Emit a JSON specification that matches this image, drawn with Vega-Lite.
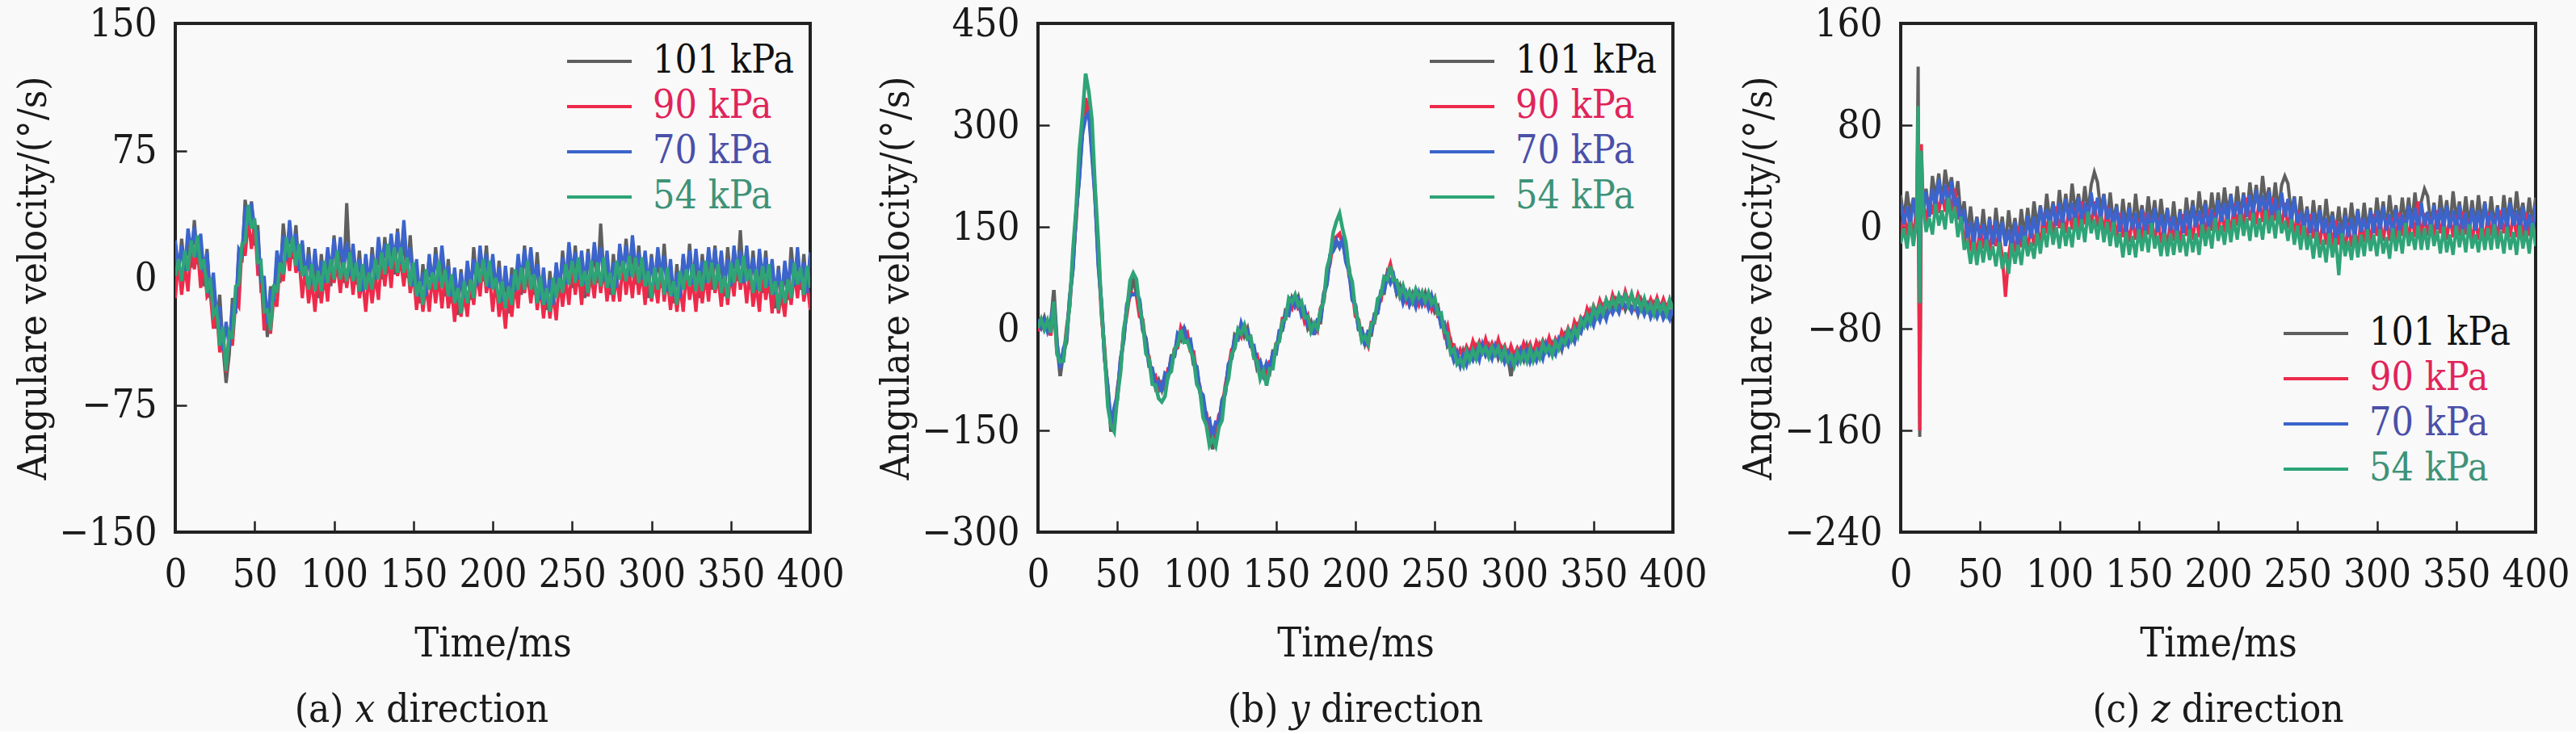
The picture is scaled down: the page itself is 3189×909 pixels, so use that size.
{
"$schema":"https://vega.github.io/schema/vega-lite/v6.json",
"background":"#f9f9f9",
"padding":{"left":15,"top":3,"right":10,"bottom":0},
"autosize":{"type":"pad"},
"bounds":"flush",
"spacing":282,
"resolve":{"scale":{"x":"independent","y":"independent","color":"independent"},"legend":{"color":"independent"}},
"config":{
"view":{"stroke":"#222222","strokeWidth":4},
"axis":{"labelFont":"DejaVu Serif Condensed, DejaVu Serif","labelFontSize":49,"labelColor":"#1a1a1a","titleFont":"DejaVu Serif Condensed, DejaVu Serif","titleFontSize":49,"titleFontWeight":"normal","titleColor":"#1a1a1a","domain":false,"grid":false,"tickSize":-14,"tickWidth":2.5,"tickColor":"#222222","labelFlush":false,"labelOverlap":false},
"axisX":{"labelPadding":42,"titlePadding":36,"titleFontSize":50},
"axisY":{"labelPadding":37,"titlePadding":6},
"legend":{"labelFont":"DejaVu Serif Condensed, DejaVu Serif","labelFontSize":48,"labelLimit":400,"symbolSize":2500,"symbolStrokeWidth":4,"labelOffset":39,"rowPadding":5,"padding":0},
"title":{"font":"DejaVu Serif Condensed, DejaVu Serif","fontSize":49,"fontWeight":"normal","color":"#1a1a1a","orient":"bottom","anchor":"middle","offset":33},
"line":{"strokeWidth":4}
},
"datasets":{
"xdir":[
{"t":0,"p101":20,"p90":-12,"p70":22,"p54":1},
{"t":2,"p101":0,"p90":10,"p70":5,"p54":11},
{"t":4,"p101":23,"p90":-10,"p70":19,"p54":-2},
{"t":6,"p101":5,"p90":7,"p70":4,"p54":16},
{"t":8,"p101":22,"p90":-8,"p70":29,"p54":4},
{"t":10,"p101":6,"p90":20,"p70":16,"p54":22},
{"t":12,"p101":34,"p90":5,"p70":30,"p54":12},
{"t":14,"p101":8,"p90":17,"p70":12,"p54":25},
{"t":16,"p101":20,"p90":-6,"p70":26,"p54":5},
{"t":18,"p101":-5,"p90":12,"p70":3,"p54":11},
{"t":20,"p101":17,"p90":-11,"p70":15,"p54":-9},
{"t":22,"p101":-12,"p90":-8,"p70":-10,"p54":0},
{"t":24,"p101":-1,"p90":-30,"p70":3,"p54":-22},
{"t":26,"p101":-30,"p90":-18,"p70":-22,"p54":-18},
{"t":28,"p101":-10,"p90":-44,"p70":-17,"p54":-40},
{"t":30,"p101":-40,"p90":-35,"p70":-43,"p54":-29},
{"t":32,"p101":-62,"p90":-56,"p70":-26,"p54":-55},
{"t":34,"p101":-45,"p90":-32,"p70":-41,"p54":-32},
{"t":36,"p101":-12,"p90":-40,"p70":-17,"p54":-36},
{"t":38,"p101":-21,"p90":-14,"p70":-21,"p54":-5},
{"t":40,"p101":15,"p90":-17,"p70":17,"p54":-4},
{"t":42,"p101":9,"p90":19,"p70":14,"p54":20},
{"t":44,"p101":46,"p90":13,"p70":42,"p54":21},
{"t":46,"p101":32,"p90":34,"p70":31,"p54":43},
{"t":48,"p101":45,"p90":17,"p70":44,"p54":29},
{"t":50,"p101":19,"p90":33,"p70":29,"p54":35},
{"t":52,"p101":31,"p90":2,"p70":27,"p54":9},
{"t":54,"p101":-7,"p90":2,"p70":-3,"p54":10},
{"t":56,"p101":-5,"p90":-31,"p70":1,"p54":-20},
{"t":58,"p101":-35,"p90":-18,"p70":-27,"p54":-19},
{"t":60,"p101":-5,"p90":-33,"p70":-7,"p54":-31},
{"t":62,"p101":-16,"p90":-12,"p70":-14,"p54":-4},
{"t":64,"p101":12,"p90":-17,"p70":16,"p54":-9},
{"t":66,"p101":-3,"p90":9,"p70":5,"p54":9},
{"t":68,"p101":32,"p90":-2,"p70":25,"p54":2},
{"t":70,"p101":13,"p90":18,"p70":10,"p54":24},
{"t":72,"p101":29,"p90":4,"p70":34,"p54":12},
{"t":74,"p101":11,"p90":24,"p70":15,"p54":24},
{"t":76,"p101":31,"p90":3,"p70":26,"p54":7},
{"t":78,"p101":4,"p90":11,"p70":4,"p54":20},
{"t":80,"p101":20,"p90":-12,"p70":22,"p54":1},
{"t":82,"p101":-4,"p90":6,"p70":1,"p54":7},
{"t":84,"p101":18,"p90":-15,"p70":14,"p54":-7},
{"t":86,"p101":-3,"p90":-1,"p70":-4,"p54":8},
{"t":88,"p101":10,"p90":-20,"p70":17,"p54":-8},
{"t":90,"p101":-12,"p90":2,"p70":-2,"p54":4},
{"t":92,"p101":14,"p90":-15,"p70":10,"p54":-8},
{"t":94,"p101":-7,"p90":2,"p70":-3,"p54":10},
{"t":96,"p101":12,"p90":-14,"p70":18,"p54":-3},
{"t":98,"p101":-5,"p90":12,"p70":3,"p54":11},
{"t":100,"p101":25,"p90":-3,"p70":23,"p54":-1},
{"t":102,"p101":4,"p90":8,"p70":6,"p54":16},
{"t":104,"p101":20,"p90":-9,"p70":24,"p54":-1},
{"t":106,"p101":-3,"p90":9,"p70":5,"p54":9},
{"t":108,"p101":44,"p90":-6,"p70":21,"p54":-2},
{"t":110,"p101":4,"p90":9,"p70":1,"p54":15},
{"t":112,"p101":15,"p90":-10,"p70":20,"p54":-2},
{"t":114,"p101":-4,"p90":9,"p70":0,"p54":9},
{"t":116,"p101":16,"p90":-12,"p70":11,"p54":-8},
{"t":118,"p101":-8,"p90":-1,"p70":-8,"p54":8},
{"t":120,"p101":12,"p90":-20,"p70":14,"p54":-7},
{"t":122,"p101":-8,"p90":2,"p70":-3,"p54":3},
{"t":124,"p101":18,"p90":-15,"p70":14,"p54":-7},
{"t":126,"p101":0,"p90":2,"p70":-1,"p54":11},
{"t":128,"p101":17,"p90":-13,"p70":24,"p54":-1},
{"t":130,"p101":-1,"p90":13,"p70":9,"p54":15},
{"t":132,"p101":24,"p90":-5,"p70":20,"p54":2},
{"t":134,"p101":3,"p90":12,"p70":7,"p54":20},
{"t":136,"p101":20,"p90":-6,"p70":26,"p54":5},
{"t":138,"p101":2,"p90":19,"p70":10,"p54":18},
{"t":140,"p101":29,"p90":1,"p70":27,"p54":3},
{"t":142,"p101":6,"p90":10,"p70":8,"p54":18},
{"t":144,"p101":24,"p90":-5,"p70":34,"p54":3},
{"t":146,"p101":0,"p90":12,"p70":8,"p54":12},
{"t":148,"p101":25,"p90":-9,"p70":18,"p54":-5},
{"t":150,"p101":-2,"p90":3,"p70":-5,"p54":9},
{"t":152,"p101":6,"p90":-19,"p70":11,"p54":-11},
{"t":154,"p101":-15,"p90":-2,"p70":-11,"p54":-2},
{"t":156,"p101":8,"p90":-20,"p70":3,"p54":-16},
{"t":158,"p101":-11,"p90":-4,"p70":-11,"p54":5},
{"t":160,"p101":12,"p90":-20,"p70":14,"p54":-7},
{"t":162,"p101":-8,"p90":2,"p70":-3,"p54":3},
{"t":164,"p101":18,"p90":-15,"p70":14,"p54":-7},
{"t":166,"p101":-1,"p90":1,"p70":-2,"p54":10},
{"t":168,"p101":12,"p90":-18,"p70":19,"p54":-6},
{"t":170,"p101":-11,"p90":3,"p70":-1,"p54":5},
{"t":172,"p101":11,"p90":-18,"p70":7,"p54":-11},
{"t":174,"p101":-15,"p90":-6,"p70":-11,"p54":2},
{"t":176,"p101":0,"p90":-26,"p70":6,"p54":-15},
{"t":178,"p101":-22,"p90":-5,"p70":-14,"p54":-6},
{"t":180,"p101":5,"p90":-23,"p70":3,"p54":-21},
{"t":182,"p101":-14,"p90":-10,"p70":-12,"p54":-2},
{"t":184,"p101":6,"p90":-23,"p70":10,"p54":-15},
{"t":186,"p101":-13,"p90":-1,"p70":-5,"p54":-1},
{"t":188,"p101":18,"p90":-16,"p70":11,"p54":-12},
{"t":190,"p101":-2,"p90":3,"p70":-5,"p54":9},
{"t":192,"p101":14,"p90":-11,"p70":19,"p54":-3},
{"t":194,"p101":-2,"p90":11,"p70":2,"p54":11},
{"t":196,"p101":19,"p90":-9,"p70":14,"p54":-5},
{"t":198,"p101":-6,"p90":1,"p70":-6,"p54":10},
{"t":200,"p101":12,"p90":-20,"p70":14,"p54":-7},
{"t":202,"p101":-11,"p90":-1,"p70":-6,"p54":0},
{"t":204,"p101":10,"p90":-23,"p70":6,"p54":-15},
{"t":206,"p101":-13,"p90":-11,"p70":-14,"p54":-2},
{"t":208,"p101":0,"p90":-30,"p70":7,"p54":-18},
{"t":210,"p101":-21,"p90":-7,"p70":-11,"p54":-5},
{"t":212,"p101":6,"p90":-23,"p70":2,"p54":-16},
{"t":214,"p101":-12,"p90":-3,"p70":-8,"p54":5},
{"t":216,"p101":8,"p90":-18,"p70":14,"p54":-7},
{"t":218,"p101":-10,"p90":7,"p70":-2,"p54":6},
{"t":220,"p101":19,"p90":-9,"p70":17,"p54":-7},
{"t":222,"p101":-2,"p90":2,"p70":0,"p54":10},
{"t":224,"p101":14,"p90":-15,"p70":18,"p54":-7},
{"t":226,"p101":-10,"p90":2,"p70":-2,"p54":2},
{"t":228,"p101":15,"p90":-19,"p70":8,"p54":-15},
{"t":230,"p101":-10,"p90":-5,"p70":-13,"p54":1},
{"t":232,"p101":1,"p90":-24,"p70":6,"p54":-16},
{"t":234,"p101":-19,"p90":-6,"p70":-15,"p54":-6},
{"t":236,"p101":4,"p90":-24,"p70":-1,"p54":-20},
{"t":238,"p101":-16,"p90":-9,"p70":-16,"p54":0},
{"t":240,"p101":7,"p90":-25,"p70":9,"p54":-12},
{"t":242,"p101":-11,"p90":-1,"p70":-6,"p54":0},
{"t":244,"p101":16,"p90":-17,"p70":12,"p54":-9},
{"t":246,"p101":-3,"p90":-1,"p70":-4,"p54":8},
{"t":248,"p101":14,"p90":-16,"p70":21,"p54":-4},
{"t":250,"p101":-6,"p90":8,"p70":4,"p54":10},
{"t":252,"p101":19,"p90":-10,"p70":15,"p54":-3},
{"t":254,"p101":-5,"p90":4,"p70":-1,"p54":12},
{"t":256,"p101":10,"p90":-16,"p70":16,"p54":-5},
{"t":258,"p101":-12,"p90":5,"p70":-4,"p54":4},
{"t":260,"p101":17,"p90":-11,"p70":15,"p54":-9},
{"t":262,"p101":-2,"p90":2,"p70":0,"p54":10},
{"t":264,"p101":17,"p90":-12,"p70":21,"p54":-4},
{"t":266,"p101":-3,"p90":9,"p70":5,"p54":9},
{"t":268,"p101":32,"p90":-9,"p70":18,"p54":-5},
{"t":270,"p101":1,"p90":6,"p70":-2,"p54":12},
{"t":272,"p101":11,"p90":-14,"p70":16,"p54":-6},
{"t":274,"p101":-10,"p90":3,"p70":-6,"p54":3},
{"t":276,"p101":14,"p90":-14,"p70":9,"p54":-10},
{"t":278,"p101":-6,"p90":1,"p70":-6,"p54":10},
{"t":280,"p101":18,"p90":-14,"p70":20,"p54":-1},
{"t":282,"p101":-1,"p90":9,"p70":4,"p54":10},
{"t":284,"p101":23,"p90":-10,"p70":19,"p54":-2},
{"t":286,"p101":2,"p90":4,"p70":1,"p54":13},
{"t":288,"p101":18,"p90":-12,"p70":25,"p54":0},
{"t":290,"p101":-4,"p90":10,"p70":6,"p54":12},
{"t":292,"p101":19,"p90":-10,"p70":15,"p54":-3},
{"t":294,"p101":-5,"p90":4,"p70":-1,"p54":12},
{"t":296,"p101":10,"p90":-16,"p70":16,"p54":-5},
{"t":298,"p101":-12,"p90":5,"p70":-4,"p54":4},
{"t":300,"p101":14,"p90":-14,"p70":12,"p54":-12},
{"t":302,"p101":-6,"p90":-2,"p70":-4,"p54":6},
{"t":304,"p101":14,"p90":-15,"p70":18,"p54":-7},
{"t":306,"p101":-6,"p90":6,"p70":2,"p54":6},
{"t":308,"p101":20,"p90":-14,"p70":13,"p54":-10},
{"t":310,"p101":-5,"p90":0,"p70":-8,"p54":6},
{"t":312,"p101":6,"p90":-19,"p70":11,"p54":-11},
{"t":314,"p101":-15,"p90":-2,"p70":-11,"p54":-2},
{"t":316,"p101":8,"p90":-20,"p70":3,"p54":-16},
{"t":318,"p101":-12,"p90":-5,"p70":-12,"p54":4},
{"t":320,"p101":12,"p90":-20,"p70":14,"p54":-7},
{"t":322,"p101":-6,"p90":4,"p70":-1,"p54":5},
{"t":324,"p101":20,"p90":-13,"p70":16,"p54":-5},
{"t":326,"p101":-3,"p90":-1,"p70":-4,"p54":8},
{"t":328,"p101":10,"p90":-20,"p70":17,"p54":-8},
{"t":330,"p101":-12,"p90":2,"p70":-2,"p54":4},
{"t":332,"p101":14,"p90":-15,"p70":10,"p54":-8},
{"t":334,"p101":-7,"p90":2,"p70":-3,"p54":10},
{"t":336,"p101":12,"p90":-14,"p70":18,"p54":-3},
{"t":338,"p101":-7,"p90":10,"p70":1,"p54":9},
{"t":340,"p101":19,"p90":-9,"p70":17,"p54":-7},
{"t":342,"p101":-4,"p90":0,"p70":-2,"p54":8},
{"t":344,"p101":12,"p90":-17,"p70":16,"p54":-9},
{"t":346,"p101":-11,"p90":1,"p70":-3,"p54":1},
{"t":348,"p101":18,"p90":-16,"p70":11,"p54":-12},
{"t":350,"p101":-2,"p90":3,"p70":-5,"p54":9},
{"t":352,"p101":14,"p90":-11,"p70":19,"p54":-3},
{"t":354,"p101":-2,"p90":11,"p70":2,"p54":11},
{"t":356,"p101":28,"p90":-7,"p70":16,"p54":-3},
{"t":358,"p101":-3,"p90":4,"p70":-3,"p54":13},
{"t":360,"p101":17,"p90":-15,"p70":19,"p54":-2},
{"t":362,"p101":-6,"p90":4,"p70":-1,"p54":5},
{"t":364,"p101":16,"p90":-17,"p70":12,"p54":-9},
{"t":366,"p101":-6,"p90":-4,"p70":-7,"p54":5},
{"t":368,"p101":10,"p90":-20,"p70":17,"p54":-8},
{"t":370,"p101":-9,"p90":5,"p70":1,"p54":7},
{"t":372,"p101":16,"p90":-13,"p70":12,"p54":-6},
{"t":374,"p101":-9,"p90":0,"p70":-5,"p54":8},
{"t":376,"p101":5,"p90":-21,"p70":11,"p54":-10},
{"t":378,"p101":-18,"p90":-1,"p70":-10,"p54":-2},
{"t":380,"p101":7,"p90":-21,"p70":5,"p54":-19},
{"t":382,"p101":-14,"p90":-10,"p70":-12,"p54":-2},
{"t":384,"p101":6,"p90":-23,"p70":10,"p54":-15},
{"t":386,"p101":-13,"p90":-1,"p70":-5,"p54":-1},
{"t":388,"p101":18,"p90":-16,"p70":11,"p54":-12},
{"t":390,"p101":-2,"p90":3,"p70":-5,"p54":9},
{"t":392,"p101":13,"p90":-12,"p70":18,"p54":-4},
{"t":394,"p101":-7,"p90":6,"p70":-3,"p54":6},
{"t":396,"p101":14,"p90":-14,"p70":9,"p54":-10},
{"t":398,"p101":-9,"p90":-2,"p70":-9,"p54":7},
{"t":400,"p101":13,"p90":-19,"p70":15,"p54":-6}
],
"ydir":[
{"t":0,"p101":12,"p90":-4,"p70":14,"p54":1},
{"t":2,"p101":2,"p90":16,"p70":2,"p54":14},
{"t":4,"p101":16,"p90":-1,"p70":12,"p54":-1},
{"t":6,"p101":-1,"p90":8,"p70":-4,"p54":12},
{"t":8,"p101":6,"p90":-10,"p70":10,"p54":-6},
{"t":10,"p101":57,"p90":35,"p70":38,"p54":40},
{"t":12,"p101":-21,"p90":-35,"p70":-23,"p54":-38},
{"t":14,"p101":-70,"p90":-48,"p70":-59,"p54":-49},
{"t":16,"p101":-34,"p90":-47,"p70":-30,"p54":-48},
{"t":18,"p101":-20,"p90":0,"p70":-15,"p54":-5},
{"t":20,"p101":47,"p90":35,"p70":45,"p54":34},
{"t":22,"p101":90,"p90":103,"p70":88,"p54":116},
{"t":24,"p101":169,"p90":160,"p70":170,"p54":177},
{"t":26,"p101":222,"p90":243,"p70":221,"p54":263},
{"t":28,"p101":298,"p90":288,"p70":288,"p54":314},
{"t":30,"p101":322,"p90":340,"p70":311,"p54":376},
{"t":32,"p101":330,"p90":317,"p70":318,"p54":350},
{"t":34,"p101":262,"p90":284,"p70":256,"p54":308},
{"t":36,"p101":200,"p90":191,"p70":192,"p54":208},
{"t":38,"p101":100,"p90":114,"p70":93,"p54":129},
{"t":40,"p101":36,"p90":20,"p70":37,"p54":28},
{"t":42,"p101":-44,"p90":-31,"p70":-44,"p54":-38},
{"t":44,"p101":-86,"p90":-105,"p70":-88,"p54":-115},
{"t":46,"p101":-152,"p90":-133,"p70":-140,"p54":-143},
{"t":48,"p101":-124,"p90":-142,"p70":-117,"p54":-152},
{"t":50,"p101":-105,"p90":-89,"p70":-98,"p54":-101},
{"t":52,"p101":-45,"p90":-60,"p70":-47,"p54":-65},
{"t":54,"p101":-17,"p90":-4,"p70":-16,"p54":-1},
{"t":56,"p101":33,"p90":21,"p70":36,"p54":27},
{"t":58,"p101":48,"p90":55,"p70":50,"p54":71},
{"t":60,"p101":76,"p90":51,"p70":50,"p54":82},
{"t":62,"p101":52,"p90":50,"p70":52,"p54":73},
{"t":64,"p101":40,"p90":18,"p70":43,"p54":31},
{"t":66,"p101":-3,"p90":13,"p70":0,"p54":9},
{"t":68,"p101":-14,"p90":-31,"p70":-18,"p54":-37},
{"t":70,"p101":-52,"p90":-42,"p70":-56,"p54":-45},
{"t":72,"p101":-62,"p90":-75,"p70":-58,"p54":-82},
{"t":74,"p101":-86,"p90":-70,"p70":-84,"p54":-83},
{"t":76,"p101":-76,"p90":-91,"p70":-79,"p54":-103},
{"t":78,"p101":-90,"p90":-80,"p70":-93,"p54":-108},
{"t":80,"p101":-70,"p90":-87,"p70":-66,"p54":-100},
{"t":82,"p101":-71,"p90":-59,"p70":-70,"p54":-68},
{"t":84,"p101":-40,"p90":-58,"p70":-43,"p54":-63},
{"t":86,"p101":-39,"p90":-30,"p70":-41,"p54":-30},
{"t":88,"p101":-11,"p90":-28,"p70":-7,"p54":-25},
{"t":90,"p101":-17,"p90":1,"p70":-12,"p54":-2},
{"t":92,"p101":3,"p90":-11,"p70":0,"p54":-20},
{"t":94,"p101":-19,"p90":-6,"p70":-18,"p54":-18},
{"t":96,"p101":-20,"p90":-33,"p70":-16,"p54":-32},
{"t":98,"p101":-53,"p90":-34,"p70":-48,"p54":-43},
{"t":100,"p101":-56,"p90":-71,"p70":-57,"p54":-82},
{"t":102,"p101":-94,"p90":-85,"p70":-92,"p54":-91},
{"t":104,"p101":-104,"p90":-120,"p70":-98,"p54":-131},
{"t":106,"p101":-138,"p90":-124,"p70":-132,"p54":-142},
{"t":108,"p101":-134,"p90":-153,"p70":-135,"p54":-172},
{"t":110,"p101":-178,"p90":-148,"p70":-158,"p54":-162},
{"t":112,"p101":-144,"p90":-158,"p70":-138,"p54":-173},
{"t":114,"p101":-141,"p90":-127,"p70":-139,"p54":-145},
{"t":116,"p101":-105,"p90":-121,"p70":-107,"p54":-135},
{"t":118,"p101":-94,"p90":-84,"p70":-96,"p54":-89},
{"t":120,"p101":-55,"p90":-60,"p70":-52,"p54":-74},
{"t":122,"p101":-44,"p90":-31,"p70":-44,"p54":-38},
{"t":124,"p101":-9,"p90":-27,"p70":-13,"p54":-29},
{"t":126,"p101":-13,"p90":-4,"p70":-16,"p54":-1},
{"t":128,"p101":4,"p90":-12,"p70":8,"p54":-8},
{"t":130,"p101":-11,"p90":7,"p70":-6,"p54":5},
{"t":132,"p101":0,"p90":-14,"p70":-3,"p54":-15},
{"t":134,"p101":-26,"p90":-14,"p70":-26,"p54":-12},
{"t":136,"p101":-30,"p90":-42,"p70":-25,"p54":-43},
{"t":138,"p101":-58,"p90":-39,"p70":-53,"p54":-48},
{"t":140,"p101":-49,"p90":-63,"p70":-49,"p54":-74},
{"t":142,"p101":-68,"p90":-59,"p70":-67,"p54":-62},
{"t":144,"p101":-56,"p90":-71,"p70":-51,"p54":-84},
{"t":146,"p101":-64,"p90":-49,"p70":-60,"p54":-59},
{"t":148,"p101":-33,"p90":-50,"p70":-36,"p54":-59},
{"t":150,"p101":-33,"p90":-22,"p70":-37,"p54":-23},
{"t":152,"p101":-7,"p90":-18,"p70":-3,"p54":-19},
{"t":154,"p101":-2,"p90":15,"p70":-2,"p54":11},
{"t":156,"p101":27,"p90":15,"p70":23,"p54":14},
{"t":158,"p101":25,"p90":37,"p70":20,"p54":45},
{"t":160,"p101":45,"p90":30,"p70":47,"p54":39},
{"t":162,"p101":34,"p90":49,"p70":33,"p54":50},
{"t":164,"p101":46,"p90":30,"p70":42,"p54":34},
{"t":166,"p101":24,"p90":33,"p70":20,"p54":40},
{"t":168,"p101":25,"p90":10,"p70":29,"p54":16},
{"t":170,"p101":1,"p90":19,"p70":5,"p54":18},
{"t":172,"p101":10,"p90":-4,"p70":7,"p54":-4},
{"t":174,"p101":-9,"p90":4,"p70":-9,"p54":8},
{"t":176,"p101":9,"p90":-3,"p70":13,"p54":0},
{"t":178,"p101":9,"p90":30,"p70":13,"p54":28},
{"t":180,"p101":52,"p90":40,"p70":49,"p54":40},
{"t":182,"p101":66,"p90":79,"p70":65,"p54":89},
{"t":184,"p101":107,"p90":96,"p70":109,"p54":106},
{"t":186,"p101":115,"p90":133,"p70":115,"p54":142},
{"t":188,"p101":124,"p90":135,"p70":130,"p54":158},
{"t":190,"p101":126,"p90":140,"p70":120,"p54":170},
{"t":192,"p101":128,"p90":124,"p70":132,"p54":146},
{"t":194,"p101":101,"p90":120,"p70":98,"p54":127},
{"t":196,"p101":90,"p90":78,"p70":84,"p54":84},
{"t":198,"p101":47,"p90":60,"p70":42,"p54":69},
{"t":200,"p101":34,"p90":18,"p70":35,"p54":26},
{"t":202,"p101":-1,"p90":13,"p70":-1,"p54":10},
{"t":204,"p101":0,"p90":-17,"p70":-3,"p54":-18},
{"t":206,"p101":-22,"p90":-14,"p70":-25,"p54":-11},
{"t":208,"p101":-8,"p90":-25,"p70":-4,"p54":-22},
{"t":210,"p101":-9,"p90":9,"p70":-4,"p54":7},
{"t":212,"p101":22,"p90":9,"p70":19,"p54":10},
{"t":214,"p101":24,"p90":37,"p70":23,"p54":44},
{"t":216,"p101":52,"p90":41,"p70":55,"p54":49},
{"t":218,"p101":52,"p90":74,"p70":55,"p54":76},
{"t":220,"p101":81,"p90":80,"p70":77,"p54":72},
{"t":222,"p101":69,"p90":95,"p70":67,"p54":92},
{"t":224,"p101":75,"p90":74,"p70":78,"p54":71},
{"t":226,"p101":52,"p90":68,"p70":53,"p54":71},
{"t":228,"p101":63,"p90":48,"p70":58,"p54":49},
{"t":230,"p101":44,"p90":56,"p70":38,"p54":63},
{"t":232,"p101":51,"p90":41,"p70":52,"p54":46},
{"t":234,"p101":36,"p90":54,"p70":35,"p54":55},
{"t":236,"p101":51,"p90":39,"p70":46,"p54":41},
{"t":238,"p101":37,"p90":50,"p70":32,"p54":58},
{"t":240,"p101":51,"p90":36,"p70":52,"p54":46},
{"t":242,"p101":37,"p90":52,"p70":36,"p54":54},
{"t":244,"p101":52,"p90":36,"p70":47,"p54":40},
{"t":246,"p101":35,"p90":45,"p70":31,"p54":53},
{"t":248,"p101":44,"p90":29,"p70":48,"p54":37},
{"t":250,"p101":25,"p90":43,"p70":29,"p54":45},
{"t":252,"p101":32,"p90":18,"p70":29,"p54":21},
{"t":254,"p101":5,"p90":18,"p70":4,"p54":23},
{"t":256,"p101":4,"p90":-8,"p70":8,"p54":-5},
{"t":258,"p101":-25,"p90":4,"p70":-23,"p54":-7},
{"t":260,"p101":-18,"p90":-23,"p70":-30,"p54":-36},
{"t":262,"p101":-44,"p90":-24,"p70":-47,"p54":-30},
{"t":264,"p101":-39,"p90":-42,"p70":-35,"p54":-52},
{"t":266,"p101":-54,"p90":-31,"p70":-54,"p54":-45},
{"t":268,"p101":-33,"p90":-41,"p70":-39,"p54":-55},
{"t":270,"p101":-45,"p90":-27,"p70":-53,"p54":-34},
{"t":272,"p101":-36,"p90":-37,"p70":-36,"p54":-47},
{"t":274,"p101":-44,"p90":-19,"p70":-46,"p54":-32},
{"t":276,"p101":-27,"p90":-32,"p70":-33,"p54":-44},
{"t":278,"p101":-40,"p90":-20,"p70":-46,"p54":-25},
{"t":280,"p101":-25,"p90":-33,"p70":-24,"p54":-36},
{"t":282,"p101":-38,"p90":-16,"p70":-39,"p54":-28},
{"t":284,"p101":-25,"p90":-33,"p70":-32,"p54":-42},
{"t":286,"p101":-39,"p90":-22,"p70":-44,"p54":-27},
{"t":288,"p101":-26,"p90":-34,"p70":-26,"p54":-38},
{"t":290,"p101":-43,"p90":-17,"p70":-40,"p54":-28},
{"t":292,"p101":-30,"p90":-35,"p70":-34,"p54":-44},
{"t":294,"p101":-48,"p90":-26,"p70":-49,"p54":-31},
{"t":296,"p101":-39,"p90":-42,"p70":-36,"p54":-48},
{"t":298,"p101":-70,"p90":-26,"p70":-52,"p54":-39},
{"t":300,"p101":-34,"p90":-40,"p70":-41,"p54":-54},
{"t":302,"p101":-47,"p90":-29,"p70":-50,"p54":-35},
{"t":304,"p101":-34,"p90":-38,"p70":-32,"p54":-48},
{"t":306,"p101":-46,"p90":-22,"p70":-45,"p54":-35},
{"t":308,"p101":-26,"p90":-34,"p70":-33,"p54":-48},
{"t":310,"p101":-42,"p90":-23,"p70":-49,"p54":-30},
{"t":312,"p101":-36,"p90":-38,"p70":-36,"p54":-47},
{"t":314,"p101":-45,"p90":-20,"p70":-47,"p54":-33},
{"t":316,"p101":-25,"p90":-30,"p70":-32,"p54":-43},
{"t":318,"p101":-38,"p90":-18,"p70":-44,"p54":-22},
{"t":320,"p101":-23,"p90":-30,"p70":-23,"p54":-34},
{"t":322,"p101":-36,"p90":-14,"p70":-37,"p54":-26},
{"t":324,"p101":-22,"p90":-31,"p70":-30,"p54":-39},
{"t":326,"p101":-33,"p90":-16,"p70":-38,"p54":-20},
{"t":328,"p101":-18,"p90":-26,"p70":-17,"p54":-30},
{"t":330,"p101":-31,"p90":-5,"p70":-29,"p54":-15},
{"t":332,"p101":-10,"p90":-15,"p70":-15,"p54":-22},
{"t":334,"p101":-22,"p90":0,"p70":-24,"p54":-3},
{"t":336,"p101":-9,"p90":-12,"p70":-7,"p54":-16},
{"t":338,"p101":-19,"p90":10,"p70":-18,"p54":0},
{"t":340,"p101":4,"p90":0,"p70":-1,"p54":-11},
{"t":342,"p101":-4,"p90":16,"p70":-6,"p54":13},
{"t":344,"p101":13,"p90":9,"p70":13,"p54":4},
{"t":346,"p101":4,"p90":29,"p70":4,"p54":20},
{"t":348,"p101":25,"p90":18,"p70":17,"p54":9},
{"t":350,"p101":13,"p90":33,"p70":5,"p54":31},
{"t":352,"p101":23,"p90":22,"p70":23,"p54":18},
{"t":354,"p101":14,"p90":41,"p70":12,"p54":33},
{"t":356,"p101":32,"p90":29,"p70":27,"p54":22},
{"t":358,"p101":21,"p90":42,"p70":14,"p54":42},
{"t":360,"p101":35,"p90":29,"p70":33,"p54":31},
{"t":362,"p101":26,"p90":49,"p70":23,"p54":43},
{"t":364,"p101":42,"p90":35,"p70":34,"p54":32},
{"t":366,"p101":30,"p90":48,"p70":24,"p54":49},
{"t":368,"p101":41,"p90":35,"p70":42,"p54":37},
{"t":370,"p101":28,"p90":54,"p70":32,"p54":50},
{"t":372,"p101":41,"p90":38,"p70":35,"p54":35},
{"t":374,"p101":28,"p90":50,"p70":25,"p54":51},
{"t":376,"p101":37,"p90":33,"p70":36,"p54":34},
{"t":378,"p101":22,"p90":50,"p70":23,"p54":44},
{"t":380,"p101":41,"p90":37,"p70":34,"p54":29},
{"t":382,"p101":25,"p90":43,"p70":21,"p54":44},
{"t":384,"p101":35,"p90":30,"p70":34,"p54":27},
{"t":386,"p101":19,"p90":43,"p70":17,"p54":36},
{"t":388,"p101":36,"p90":30,"p70":28,"p54":22},
{"t":390,"p101":24,"p90":45,"p70":17,"p54":44},
{"t":392,"p101":31,"p90":30,"p70":30,"p54":26},
{"t":394,"p101":18,"p90":43,"p70":15,"p54":36},
{"t":396,"p101":32,"p90":29,"p70":24,"p54":22},
{"t":398,"p101":21,"p90":42,"p70":14,"p54":42},
{"t":400,"p101":33,"p90":27,"p70":31,"p54":28}
],
"zdir":[
{"t":0,"p101":25,"p90":-9,"p70":19,"p54":-13},
{"t":2,"p101":5,"p90":13,"p70":2,"p54":-1},
{"t":4,"p101":28,"p90":-7,"p70":16,"p54":-17},
{"t":6,"p101":9,"p90":9,"p70":0,"p54":4},
{"t":8,"p101":23,"p90":-9,"p70":22,"p54":-15},
{"t":10,"p101":4,"p90":16,"p70":6,"p54":4},
{"t":11,"p101":126,"p90":30,"p70":50,"p54":95},
{"t":12,"p101":-165,"p90":-160,"p70":-40,"p54":-60},
{"t":13,"p101":30,"p90":65,"p70":35,"p54":60},
{"t":14,"p101":16,"p90":23,"p70":12,"p54":17},
{"t":16,"p101":30,"p90":2,"p70":28,"p54":-4},
{"t":18,"p101":8,"p90":23,"p70":8,"p54":7},
{"t":20,"p101":40,"p90":10,"p70":30,"p54":-6},
{"t":22,"p101":22,"p90":24,"p70":16,"p54":18},
{"t":24,"p101":42,"p90":11,"p70":38,"p54":1},
{"t":26,"p101":18,"p90":28,"p70":18,"p54":13},
{"t":28,"p101":45,"p90":12,"p70":33,"p54":-2},
{"t":30,"p101":28,"p90":31,"p70":17,"p54":23},
{"t":32,"p101":39,"p90":12,"p70":36,"p54":3},
{"t":34,"p101":19,"p90":30,"p70":15,"p54":16},
{"t":36,"p101":36,"p90":6,"p70":23,"p54":-8},
{"t":38,"p101":7,"p90":12,"p70":-1,"p54":8},
{"t":40,"p101":20,"p90":-14,"p70":14,"p54":-18},
{"t":42,"p101":-6,"p90":2,"p70":-9,"p54":-12},
{"t":44,"p101":16,"p90":-19,"p70":4,"p54":-29},
{"t":46,"p101":-7,"p90":-7,"p70":-16,"p54":-12},
{"t":48,"p101":8,"p90":-24,"p70":7,"p54":-30},
{"t":50,"p101":-11,"p90":1,"p70":-9,"p54":-11},
{"t":52,"p101":14,"p90":-17,"p70":2,"p54":-28},
{"t":54,"p101":-11,"p90":-4,"p70":-15,"p54":-10},
{"t":56,"p101":8,"p90":-20,"p70":6,"p54":-26},
{"t":58,"p101":-14,"p90":1,"p70":-14,"p54":-15},
{"t":60,"p101":15,"p90":-15,"p70":5,"p54":-31},
{"t":62,"p101":-8,"p90":-6,"p70":-14,"p54":-12},
{"t":64,"p101":8,"p90":-23,"p70":4,"p54":-33},
{"t":66,"p101":-15,"p90":-55,"p70":-15,"p54":-20},
{"t":68,"p101":13,"p90":-23,"p70":-2,"p54":-37},
{"t":70,"p101":-8,"p90":-5,"p70":-19,"p54":-13},
{"t":72,"p101":7,"p90":-20,"p70":4,"p54":-29},
{"t":74,"p101":-11,"p90":0,"p70":-15,"p54":-14},
{"t":76,"p101":14,"p90":-16,"p70":1,"p54":-30},
{"t":78,"p101":-8,"p90":-3,"p70":-16,"p54":-7},
{"t":80,"p101":15,"p90":-19,"p70":9,"p54":-23},
{"t":82,"p101":-6,"p90":2,"p70":-9,"p54":-12},
{"t":84,"p101":20,"p90":-15,"p70":8,"p54":-25},
{"t":86,"p101":0,"p90":0,"p70":-9,"p54":-5},
{"t":88,"p101":17,"p90":-15,"p70":16,"p54":-21},
{"t":90,"p101":-1,"p90":11,"p70":1,"p54":-1},
{"t":92,"p101":26,"p90":-5,"p70":14,"p54":-16},
{"t":94,"p101":4,"p90":11,"p70":0,"p54":5},
{"t":96,"p101":20,"p90":-8,"p70":18,"p54":-14},
{"t":98,"p101":1,"p90":16,"p70":1,"p54":0},
{"t":100,"p101":29,"p90":-1,"p70":19,"p54":-17},
{"t":102,"p101":7,"p90":9,"p70":1,"p54":3},
{"t":104,"p101":26,"p90":-5,"p70":22,"p54":-15},
{"t":106,"p101":5,"p90":15,"p70":5,"p54":0},
{"t":108,"p101":34,"p90":-2,"p70":19,"p54":-16},
{"t":110,"p101":12,"p90":15,"p70":1,"p54":7},
{"t":112,"p101":26,"p90":-1,"p70":23,"p54":-10},
{"t":114,"p101":9,"p90":20,"p70":5,"p54":6},
{"t":116,"p101":32,"p90":2,"p70":19,"p54":-12},
{"t":118,"p101":11,"p90":16,"p70":3,"p54":12},
{"t":120,"p101":33,"p90":-1,"p70":27,"p54":-5},
{"t":122,"p101":43,"p90":20,"p70":9,"p54":6},
{"t":124,"p101":35,"p90":0,"p70":23,"p54":-10},
{"t":126,"p101":13,"p90":13,"p70":4,"p54":8},
{"t":128,"p101":26,"p90":-6,"p70":25,"p54":-12},
{"t":130,"p101":4,"p90":16,"p70":6,"p54":4},
{"t":132,"p101":27,"p90":-4,"p70":15,"p54":-15},
{"t":134,"p101":3,"p90":10,"p70":-1,"p54":4},
{"t":136,"p101":18,"p90":-10,"p70":16,"p54":-16},
{"t":138,"p101":-4,"p90":11,"p70":-4,"p54":-5},
{"t":140,"p101":22,"p90":-8,"p70":12,"p54":-24},
{"t":142,"p101":0,"p90":2,"p70":-6,"p54":-4},
{"t":144,"p101":19,"p90":-12,"p70":15,"p54":-22},
{"t":146,"p101":-2,"p90":8,"p70":-2,"p54":-7},
{"t":148,"p101":26,"p90":-10,"p70":11,"p54":-24},
{"t":150,"p101":3,"p90":6,"p70":-8,"p54":-2},
{"t":152,"p101":17,"p90":-10,"p70":14,"p54":-19},
{"t":154,"p101":0,"p90":11,"p70":-4,"p54":-3},
{"t":156,"p101":24,"p90":-6,"p70":11,"p54":-20},
{"t":158,"p101":2,"p90":7,"p70":-6,"p54":3},
{"t":160,"p101":21,"p90":-13,"p70":15,"p54":-17},
{"t":162,"p101":-1,"p90":7,"p70":-4,"p54":-7},
{"t":164,"p101":22,"p90":-13,"p70":10,"p54":-23},
{"t":166,"p101":0,"p90":0,"p70":-9,"p54":-5},
{"t":168,"p101":15,"p90":-17,"p70":14,"p54":-23},
{"t":170,"p101":-5,"p90":7,"p70":-3,"p54":-5},
{"t":172,"p101":20,"p90":-11,"p70":8,"p54":-22},
{"t":174,"p101":-4,"p90":3,"p70":-8,"p54":-3},
{"t":176,"p101":14,"p90":-14,"p70":12,"p54":-20},
{"t":178,"p101":-5,"p90":10,"p70":-5,"p54":-6},
{"t":180,"p101":23,"p90":-7,"p70":13,"p54":-23},
{"t":182,"p101":2,"p90":4,"p70":-4,"p54":-2},
{"t":184,"p101":21,"p90":-10,"p70":17,"p54":-20},
{"t":186,"p101":0,"p90":10,"p70":0,"p54":-5},
{"t":188,"p101":28,"p90":-8,"p70":13,"p54":-22},
{"t":190,"p101":7,"p90":10,"p70":-4,"p54":2},
{"t":192,"p101":21,"p90":-6,"p70":18,"p54":-15},
{"t":194,"p101":3,"p90":14,"p70":-1,"p54":0},
{"t":196,"p101":27,"p90":-3,"p70":14,"p54":-17},
{"t":198,"p101":6,"p90":11,"p70":-2,"p54":7},
{"t":200,"p101":27,"p90":-7,"p70":21,"p54":-11},
{"t":202,"p101":7,"p90":15,"p70":4,"p54":1},
{"t":204,"p101":31,"p90":-4,"p70":19,"p54":-14},
{"t":206,"p101":11,"p90":11,"p70":2,"p54":6},
{"t":208,"p101":26,"p90":-6,"p70":25,"p54":-12},
{"t":210,"p101":6,"p90":18,"p70":8,"p54":6},
{"t":212,"p101":32,"p90":1,"p70":20,"p54":-10},
{"t":214,"p101":9,"p90":16,"p70":5,"p54":10},
{"t":216,"p101":27,"p90":-1,"p70":25,"p54":-7},
{"t":218,"p101":8,"p90":23,"p70":8,"p54":7},
{"t":220,"p101":35,"p90":5,"p70":25,"p54":-11},
{"t":222,"p101":15,"p90":17,"p70":9,"p54":11},
{"t":224,"p101":33,"p90":2,"p70":29,"p54":-8},
{"t":226,"p101":12,"p90":22,"p70":12,"p54":7},
{"t":228,"p101":40,"p90":4,"p70":25,"p54":-10},
{"t":230,"p101":18,"p90":21,"p70":7,"p54":13},
{"t":232,"p101":31,"p90":4,"p70":28,"p54":-5},
{"t":234,"p101":12,"p90":23,"p70":8,"p54":9},
{"t":236,"p101":35,"p90":5,"p70":22,"p54":-9},
{"t":238,"p101":12,"p90":17,"p70":4,"p54":13},
{"t":240,"p101":33,"p90":-1,"p70":27,"p54":-5},
{"t":242,"p101":40,"p90":19,"p70":8,"p54":5},
{"t":244,"p101":34,"p90":-1,"p70":22,"p54":-11},
{"t":246,"p101":11,"p90":11,"p70":2,"p54":6},
{"t":248,"p101":24,"p90":-8,"p70":23,"p54":-14},
{"t":250,"p101":1,"p90":13,"p70":3,"p54":1},
{"t":252,"p101":24,"p90":-7,"p70":12,"p54":-18},
{"t":254,"p101":0,"p90":7,"p70":-4,"p54":1},
{"t":256,"p101":16,"p90":-12,"p70":14,"p54":-18},
{"t":258,"p101":-5,"p90":10,"p70":-5,"p54":-6},
{"t":260,"p101":21,"p90":-9,"p70":11,"p54":-25},
{"t":262,"p101":0,"p90":2,"p70":-6,"p54":-4},
{"t":264,"p101":17,"p90":-14,"p70":13,"p54":-24},
{"t":266,"p101":-5,"p90":5,"p70":-5,"p54":-10},
{"t":268,"p101":22,"p90":-14,"p70":7,"p54":-28},
{"t":270,"p101":0,"p90":3,"p70":-11,"p54":-5},
{"t":272,"p101":12,"p90":-15,"p70":9,"p54":-24},
{"t":274,"p101":-6,"p90":5,"p70":-10,"p54":-9},
{"t":276,"p101":16,"p90":-14,"p70":3,"p54":-38},
{"t":278,"p101":-6,"p90":-1,"p70":-14,"p54":-5},
{"t":280,"p101":15,"p90":-19,"p70":9,"p54":-23},
{"t":282,"p101":-5,"p90":3,"p70":-8,"p54":-11},
{"t":284,"p101":19,"p90":-16,"p70":7,"p54":-26},
{"t":286,"p101":-1,"p90":-1,"p70":-10,"p54":-6},
{"t":288,"p101":14,"p90":-18,"p70":13,"p54":-24},
{"t":290,"p101":-6,"p90":6,"p70":-4,"p54":-6},
{"t":292,"p101":19,"p90":-12,"p70":7,"p54":-23},
{"t":294,"p101":-3,"p90":4,"p70":-7,"p54":-2},
{"t":296,"p101":15,"p90":-13,"p70":13,"p54":-19},
{"t":298,"p101":-5,"p90":10,"p70":-5,"p54":-6},
{"t":300,"p101":23,"p90":-7,"p70":13,"p54":-23},
{"t":302,"p101":2,"p90":4,"p70":-4,"p54":-2},
{"t":304,"p101":20,"p90":-11,"p70":16,"p54":-21},
{"t":306,"p101":-3,"p90":7,"p70":-3,"p54":-8},
{"t":308,"p101":25,"p90":-11,"p70":10,"p54":-25},
{"t":310,"p101":4,"p90":7,"p70":-7,"p54":-1},
{"t":312,"p101":17,"p90":-10,"p70":14,"p54":-19},
{"t":314,"p101":0,"p90":11,"p70":-4,"p54":-3},
{"t":316,"p101":23,"p90":-7,"p70":10,"p54":-21},
{"t":318,"p101":2,"p90":7,"p70":-6,"p54":3},
{"t":320,"p101":23,"p90":-11,"p70":17,"p54":-15},
{"t":322,"p101":2,"p90":10,"p70":-1,"p54":-4},
{"t":324,"p101":27,"p90":-8,"p70":15,"p54":-18},
{"t":326,"p101":6,"p90":20,"p70":-3,"p54":1},
{"t":328,"p101":20,"p90":-12,"p70":19,"p54":-18},
{"t":330,"p101":30,"p90":11,"p70":1,"p54":-1},
{"t":332,"p101":24,"p90":-7,"p70":12,"p54":-18},
{"t":334,"p101":1,"p90":8,"p70":-3,"p54":2},
{"t":336,"p101":19,"p90":-9,"p70":17,"p54":-15},
{"t":338,"p101":-2,"p90":13,"p70":-2,"p54":-3},
{"t":340,"p101":25,"p90":-5,"p70":15,"p54":-21},
{"t":342,"p101":4,"p90":6,"p70":-2,"p54":0},
{"t":344,"p101":21,"p90":-10,"p70":17,"p54":-20},
{"t":346,"p101":-1,"p90":9,"p70":-1,"p54":-6},
{"t":348,"p101":28,"p90":-8,"p70":13,"p54":-22},
{"t":350,"p101":6,"p90":9,"p70":-5,"p54":1},
{"t":352,"p101":20,"p90":-7,"p70":17,"p54":-16},
{"t":354,"p101":1,"p90":12,"p70":-3,"p54":-2},
{"t":356,"p101":24,"p90":-6,"p70":11,"p54":-20},
{"t":358,"p101":1,"p90":6,"p70":-7,"p54":2},
{"t":360,"p101":21,"p90":-13,"p70":15,"p54":-17},
{"t":362,"p101":0,"p90":8,"p70":-3,"p54":-6},
{"t":364,"p101":25,"p90":-10,"p70":13,"p54":-20},
{"t":366,"p101":4,"p90":4,"p70":-5,"p54":-1},
{"t":368,"p101":20,"p90":-12,"p70":19,"p54":-18},
{"t":370,"p101":-1,"p90":11,"p70":1,"p54":-1},
{"t":372,"p101":24,"p90":-7,"p70":12,"p54":-18},
{"t":374,"p101":1,"p90":8,"p70":-3,"p54":2},
{"t":376,"p101":17,"p90":-11,"p70":15,"p54":-17},
{"t":378,"p101":-2,"p90":13,"p70":-2,"p54":-3},
{"t":380,"p101":25,"p90":-5,"p70":15,"p54":-21},
{"t":382,"p101":4,"p90":6,"p70":-2,"p54":0},
{"t":384,"p101":23,"p90":-8,"p70":19,"p54":-18},
{"t":386,"p101":1,"p90":11,"p70":1,"p54":-4},
{"t":388,"p101":28,"p90":-8,"p70":13,"p54":-22},
{"t":390,"p101":6,"p90":9,"p70":-5,"p54":1},
{"t":392,"p101":19,"p90":-8,"p70":16,"p54":-17},
{"t":394,"p101":0,"p90":11,"p70":-4,"p54":-3},
{"t":396,"p101":23,"p90":-7,"p70":10,"p54":-21},
{"t":398,"p101":2,"p90":7,"p70":-6,"p54":3},
{"t":400,"p101":23,"p90":-11,"p70":17,"p54":-15}
]
},
"hconcat":[
{
"width":786,"height":630,
"data":{"name":"xdir"},
"transform":[{"fold":["p101","p90","p70","p54"],"as":["series","v"]}],
"mark":{"type":"line","strokeWidth":4,"clip":true},
"encoding":{
"x":{"field":"t","type":"quantitative","title":"Time/ms","scale":{"domain":[0,400],"nice":false,"zero":false},"axis":{"values":[0,50,100,150,200,250,300,350,400]}},
"y":{"field":"v","type":"quantitative","title":"Angulare velocity/(°/s)","scale":{"domain":[-150,150],"nice":false},"axis":{"values":[-150,-75,0,75,150]}},
"color":{"field":"series","type":"nominal","scale":{"domain":["p101","p90","p70","p54"],"range":["#5f5f5f","#ee2a4b","#3b64cc","#2ea477"]},
"legend":{"title":null,"orient":"top-right","offset":20,"symbolType":"M-1.6,0H1.6","labelExpr":"replace(datum.label,'p','') + ' kPa'","labelColor":{"expr":"datum.value == 'p90' ? '#e0245a' : datum.value == 'p70' ? '#4b4fa8' : datum.value == 'p54' ? '#3f9277' : '#111111'"}}}
},
"title":{"text":"(a) 𝑥 direction","dx":-88}
},
{
"width":786,"height":630,
"data":{"name":"ydir"},
"transform":[{"fold":["p101","p90","p70","p54"],"as":["series","v"]}],
"mark":{"type":"line","strokeWidth":4.5,"clip":true},
"encoding":{
"x":{"field":"t","type":"quantitative","title":"Time/ms","scale":{"domain":[0,400],"nice":false,"zero":false},"axis":{"values":[0,50,100,150,200,250,300,350,400]}},
"y":{"field":"v","type":"quantitative","title":"Angulare velocity/(°/s)","scale":{"domain":[-300,450],"nice":false},"axis":{"values":[-300,-150,0,150,300,450]}},
"color":{"field":"series","type":"nominal","scale":{"domain":["p101","p90","p70","p54"],"range":["#5f5f5f","#ee2a4b","#3b64cc","#2ea477"]},
"legend":{"title":null,"orient":"top-right","offset":20,"symbolType":"M-1.6,0H1.6","labelExpr":"replace(datum.label,'p','') + ' kPa'","labelColor":{"expr":"datum.value == 'p90' ? '#e0245a' : datum.value == 'p70' ? '#4b4fa8' : datum.value == 'p54' ? '#3f9277' : '#111111'"}}}
},
"title":{"text":"(b) 𝑦 direction"}
},
{
"width":786,"height":630,
"data":{"name":"zdir"},
"transform":[{"fold":["p101","p90","p70","p54"],"as":["series","v"]}],
"mark":{"type":"line","strokeWidth":4,"clip":true},
"encoding":{
"x":{"field":"t","type":"quantitative","title":"Time/ms","scale":{"domain":[0,400],"nice":false,"zero":false},"axis":{"values":[0,50,100,150,200,250,300,350,400]}},
"y":{"field":"v","type":"quantitative","title":"Angulare velocity/(°/s)","scale":{"domain":[-240,160],"nice":false},"axis":{"values":[-240,-160,-80,0,80,160]}},
"color":{"field":"series","type":"nominal","scale":{"domain":["p101","p90","p70","p54"],"range":["#5f5f5f","#ee2a4b","#3b64cc","#2ea477"]},
"legend":{"title":" ","titleOrient":"bottom","titleFontSize":20,"titlePadding":3,"orient":"bottom-right","offset":31,"symbolType":"M-1.6,0H1.6","labelExpr":"replace(datum.label,'p','') + ' kPa'","labelColor":{"expr":"datum.value == 'p90' ? '#e0245a' : datum.value == 'p70' ? '#4b4fa8' : datum.value == 'p54' ? '#3f9277' : '#111111'"}}}
},
"title":{"text":"(c) 𝑧 direction"}
}
]
}
